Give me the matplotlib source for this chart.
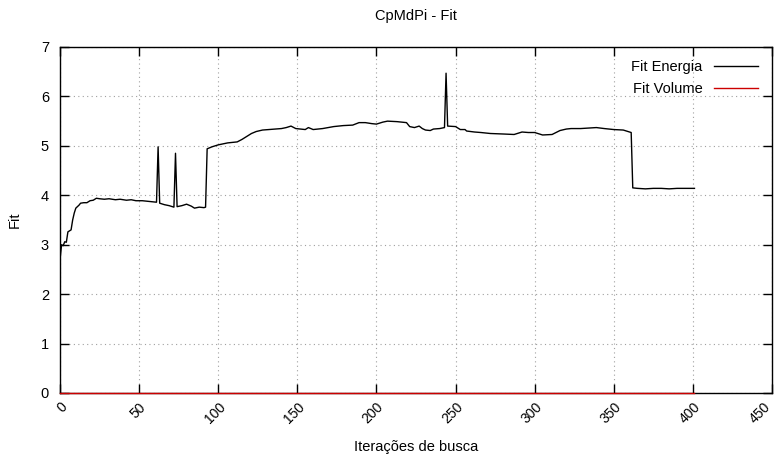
import matplotlib
matplotlib.use("Agg")
import matplotlib.pyplot as plt
import matplotlib.transforms as mtransforms

plt.rcParams['font.family'] = ['Liberation Sans', 'DejaVu Sans']

title = "CpMdPi - Fit"
xlabel = "Iterações de busca"
ylabel = "Fit"
series_names = ["Fit Energia", "Fit Volume"]

energia_x = [0, 1, 2, 3, 4, 5, 6, 7, 8, 9, 10, 12, 13, 15, 17, 19, 21, 23, 25, 28,
             31, 35, 38, 42, 45, 48, 52, 55, 58, 61, 62, 63, 66, 69, 72, 73, 74, 77,
             80, 83, 85, 88, 91, 92, 93, 96, 100, 103, 106, 109, 112, 115, 118, 121,
             124, 128, 132, 136, 140, 143, 146, 149, 152, 155, 157, 160, 166, 173,
             179, 185, 189, 193, 197, 200, 204, 207, 213, 219, 221, 224, 227, 229,
             231, 234, 236, 240, 243, 244, 245, 250, 253, 256, 257, 262, 266, 272,
             280, 287, 292, 296, 300, 305, 311, 316, 320, 323, 329, 334, 339, 344,
             350, 356, 361, 362, 365, 370, 375, 380, 385, 390, 395, 401]
energia_y = [2.70, 3.00, 2.98, 3.06, 3.05, 3.26, 3.28, 3.30, 3.50, 3.64, 3.74, 3.80,
             3.84, 3.85, 3.85, 3.89, 3.90, 3.94, 3.93, 3.92, 3.93, 3.91, 3.92, 3.90,
             3.91, 3.89, 3.89, 3.88, 3.87, 3.86, 4.98, 3.84, 3.81, 3.79, 3.76, 4.85,
             3.77, 3.79, 3.82, 3.78, 3.74, 3.76, 3.75, 3.76, 4.94, 4.98, 5.02, 5.04,
             5.06, 5.07, 5.08, 5.13, 5.19, 5.25, 5.29, 5.32, 5.33, 5.34, 5.35, 5.37,
             5.40, 5.35, 5.34, 5.33, 5.37, 5.33, 5.35, 5.39, 5.41, 5.42, 5.47, 5.47,
             5.45, 5.44, 5.48, 5.50, 5.49, 5.47, 5.39, 5.37, 5.40, 5.35, 5.32, 5.31,
             5.34, 5.35, 5.37, 6.47, 5.40, 5.39, 5.33, 5.33, 5.30, 5.28, 5.27, 5.25,
             5.24, 5.23, 5.28, 5.27, 5.27, 5.22, 5.23, 5.31, 5.34, 5.35, 5.35, 5.36,
             5.37, 5.35, 5.33, 5.32, 5.27, 4.15, 4.14, 4.13, 4.14, 4.14, 4.13, 4.14,
             4.14, 4.14]

volume_x = [0, 401]
volume_y = [0.0, 0.0]

xticks = [0, 50, 100, 150, 200, 250, 300, 350, 400, 450]
yticks = [0, 1, 2, 3, 4, 5, 6, 7]

FS = 10.5

fig = plt.figure(figsize=(7.75, 4.59), dpi=100)
ax = fig.add_axes([60/775, 1 - 393/459, 712/775, 346/459])

ax.plot(energia_x, energia_y, color='black', lw=1.0, label=series_names[0])
ax.plot(volume_x, volume_y, color='#cc0000', lw=1.0, label=series_names[1],
        clip_on=False, zorder=5)

ax.set_xlim(0, 450)
ax.set_ylim(0, 7)
ax.set_xticks(xticks)
ax.set_yticks(yticks)
ax.set_xticklabels([str(t) for t in xticks], rotation=45, ha='right', va='top',
                   rotation_mode='anchor', fontsize=10)
ax.set_yticklabels([str(t) for t in yticks], fontsize=FS)

ax.tick_params(direction='in', length=6.5, width=1.0, top=True, right=True,
               colors='black')
ax.tick_params(axis='x', pad=5)
ax.tick_params(axis='y', pad=8)

# nudge the last x tick label left so it stays inside the image
last = ax.get_xticklabels()[-1]
last.set_transform(last.get_transform() +
                   mtransforms.ScaledTranslation(-9 / 100, 0, fig.dpi_scale_trans))

ax.grid(True, color='#a0a0a0', linestyle=(0, (1, 3)), lw=0.8)
for s in ax.spines.values():
    s.set_linewidth(1.0)

ax.set_title(title, fontsize=FS, y=(393 - 16) / 346, va='center', pad=0)
ax.set_xlabel(xlabel, fontsize=FS, va='center')
ax.xaxis.set_label_coords(0.5, (393 - 447) / 346)
ax.set_ylabel(ylabel, fontsize=FS, va='center', rotation_mode='anchor')
ax.yaxis.set_label_coords((15 - 60) / 712, 0.5)

ax.legend(loc='upper right', frameon=False, markerfirst=False, fontsize=FS,
          handlelength=3.0, handletextpad=0.8, labelspacing=0.55,
          borderaxespad=0, borderpad=0,
          bbox_to_anchor=((758 - 60) / 712, (393 - 60) / 346))

fig.savefig("out.png", dpi=100)
